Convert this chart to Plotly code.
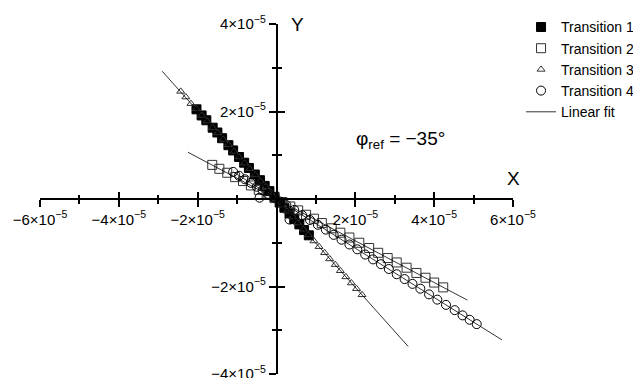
import plotly.graph_objects as go

SCALE = 1e-5  # values below are read in units of 1e-5

# Transition 1 (filled squares)
t1_x = [-2.03, -1.90, -1.78, -1.62, -1.50, -1.38, -1.22, -1.10, -0.95, -0.82, -0.70, -0.55,
        -0.42, -0.30, -0.18, -0.05, 0.08, 0.20, 0.33, 0.45, 0.58, 0.70, 0.82]
t1_y = [2.05, 1.91, 1.80, 1.63, 1.52, 1.39, 1.23, 1.11, 0.96, 0.83, 0.71, 0.56,
        0.43, 0.30, 0.18, 0.05, -0.08, -0.20, -0.33, -0.46, -0.58, -0.71, -0.83]

# Transition 2 (open squares)
t2_x = [-1.63, -1.45, -1.25, -1.05, -0.85, -0.65, -0.45, -0.25, -0.05, 0.15, 0.35, 0.55, 0.75, 0.95,
        1.15, 1.40, 1.62, 1.85, 2.10, 2.35, 2.58, 2.82, 3.05, 3.30, 3.55, 3.78, 4.00, 4.23]
t2_y = [0.78, 0.69, 0.60, 0.50, 0.41, 0.31, 0.21, 0.12, 0.02, -0.07, -0.17, -0.26, -0.36, -0.45,
        -0.55, -0.67, -0.77, -0.88, -1.00, -1.12, -1.23, -1.35, -1.45, -1.57, -1.69, -1.80, -1.91, -2.02]

# Transition 3 (open triangles)
t3_x = [-2.43, -2.30, -2.17, -2.03, -1.90, -1.76, -1.62, -1.49, -1.35, -1.22, -1.08, -0.95,
        -0.81, -0.68, -0.54, -0.41, -0.27, -0.14, 0.0, 0.14, 0.27, 0.41, 0.54, 0.68, 0.81,
        0.95, 1.08, 1.22, 1.35, 1.49, 1.62, 1.76, 1.90, 2.03, 2.17]
t3_y = [2.46, 2.33, 2.18, 2.06, 1.91, 1.78, 1.63, 1.51, 1.36, 1.24, 1.09, 0.96,
        0.82, 0.69, 0.55, 0.41, 0.28, 0.14, 0.0, -0.14, -0.28, -0.41, -0.55, -0.69, -0.82,
        -0.96, -1.09, -1.23, -1.37, -1.50, -1.64, -1.78, -1.92, -2.05, -2.19]

# Transition 4 (open circles)
t4_x = [-1.10, -0.95, -0.80, -0.65, -0.50, -0.43, -0.35, -0.20, -0.05, 0.10, 0.25, 0.33, 0.45, 0.65,
        0.85, 1.05, 1.25, 1.45, 1.65, 1.85, 2.05, 2.25, 2.45, 2.65, 2.85, 3.05, 3.25, 3.45,
        3.65, 3.87, 4.08, 4.30, 4.52, 4.72, 4.90, 5.08]
t4_y = [0.62, 0.53, 0.45, 0.37, 0.28, 0.03, 0.20, 0.11, 0.03, -0.06, -0.14, -0.47, -0.25, -0.37,
        -0.48, -0.59, -0.70, -0.82, -0.93, -1.04, -1.15, -1.27, -1.38, -1.49, -1.60, -1.72, -1.83, -1.94,
        -2.05, -2.18, -2.30, -2.42, -2.54, -2.66, -2.76, -2.86]

# linear fit segments (end points)
fit_x = [[-2.90, 3.34], [-2.25, 4.84], [-1.10, 5.72]]
fit_y = [[2.92, -3.37], [1.07, -2.31], [0.62, -3.22]]

x_major = [-6, -4, -2, 2, 4, 6]
x_minor = [-5, -3, -1, 1, 3, 5]
y_major = [-4, -2, 2, 4]
y_minor = [-3, -1, 1, 3]


def lab(v):
    sign = "\u2212" if v < 0 else ""
    return f"{sign}{abs(v)}\u00d710<sup>\u22125</sup>"


def sc(vals):
    return [v * SCALE for v in vals]


FONT = "Arial, Liberation Sans, sans-serif"
EDGE = "#333333"

fig = go.Figure()

series = [
    ("Transition 1", t1_x, t1_y, "square", 9, "black"),
    ("Transition 2", t2_x, t2_y, "square-open", 9, EDGE),
    ("Transition 3", t3_x, t3_y, "triangle-up-open", 7, EDGE),
    ("Transition 4", t4_x, t4_y, "circle-open", 9, "black"),
]
for name, xs, ys, sym, size, col in series:
    fig.add_trace(go.Scatter(
        x=sc(xs), y=sc(ys), mode="markers", name=name,
        marker=dict(symbol=sym, size=size, color=col, line=dict(width=1, color=col)),
    ))

for i, (xs, ys) in enumerate(zip(fit_x, fit_y)):
    fig.add_trace(go.Scatter(
        x=sc(xs), y=sc(ys), mode="lines", name="Linear fit",
        legendgroup="fit", showlegend=(i == 0),
        line=dict(color="black", width=0.8),
    ))

# dummy trace so the overlay axes (inner half of the crossing ticks) are drawn
fig.add_trace(go.Scatter(x=[], y=[], xaxis="x2", yaxis="y2", showlegend=False))

xr = [-6 * SCALE, 6 * SCALE]
yr = [-4 * SCALE, 4 * SCALE]
axis_common = dict(showgrid=False, zeroline=False, anchor="free", position=0.5,
                   automargin=False,
                   tickcolor="black", tickwidth=1.5, ticklabeloverflow="allow",
                   tickfont=dict(family=FONT, size=15, color="black"))

# the page body adds an 8px offset, so the figure is 8px smaller than the window
fig.update_layout(
    width=633, height=370,
    margin=dict(l=32, r=128, t=16, b=4, autoexpand=False),
    plot_bgcolor="white", paper_bgcolor="white",
    font=dict(family=FONT, size=14, color="black"),
    xaxis=dict(range=xr, tickmode="array", tickvals=sc(x_major),
               ticktext=[lab(v) for v in x_major], ticks="outside", ticklen=7,
               showline=True, linecolor="black", linewidth=1.5,
               minor=dict(tickmode="array", tickvals=sc(x_minor), ticks="outside",
                          ticklen=4, tickcolor="black", tickwidth=1.5),
               **axis_common),
    yaxis=dict(range=yr, tickmode="array", tickvals=sc(y_major),
               ticktext=[lab(v) for v in y_major], ticks="outside", ticklen=7,
               showline=True, linecolor="black", linewidth=1.5,
               minor=dict(tickmode="array", tickvals=sc(y_minor), ticks="outside",
                          ticklen=4, tickcolor="black", tickwidth=1.5),
               **axis_common),
    xaxis2=dict(range=xr, overlaying="x", tickmode="array", tickvals=sc(x_major),
                ticks="inside", ticklen=7, showticklabels=False, showline=False,
                minor=dict(tickmode="array", tickvals=sc(x_minor), ticks="inside",
                           ticklen=4, tickcolor="black", tickwidth=1.5),
                **axis_common),
    yaxis2=dict(range=yr, overlaying="y", tickmode="array", tickvals=sc(y_major),
                ticks="inside", ticklen=7, showticklabels=False, showline=False,
                minor=dict(tickmode="array", tickvals=sc(y_minor), ticks="inside",
                           ticklen=4, tickcolor="black", tickwidth=1.5),
                **axis_common),
    legend=dict(x=1.017, y=1.036, xanchor="left", yanchor="top", tracegroupgap=0,
                font=dict(family=FONT, size=14), bgcolor="rgba(0,0,0,0)"),
    annotations=[
        dict(text="X", x=6 * SCALE, y=0, xref="x", yref="y", yshift=21,
             showarrow=False, font=dict(family=FONT, size=19)),
        dict(text="Y", x=0, y=4 * SCALE, xref="x", yref="y", xshift=21,
             showarrow=False, font=dict(family=FONT, size=19)),
        dict(text="\u03c6<sub>ref</sub> = \u221235\u00b0", x=3.14 * SCALE, y=1.36 * SCALE,
             xref="x", yref="y", showarrow=False, font=dict(family=FONT, size=19)),
    ],
)

fig.write_html("out.html")
